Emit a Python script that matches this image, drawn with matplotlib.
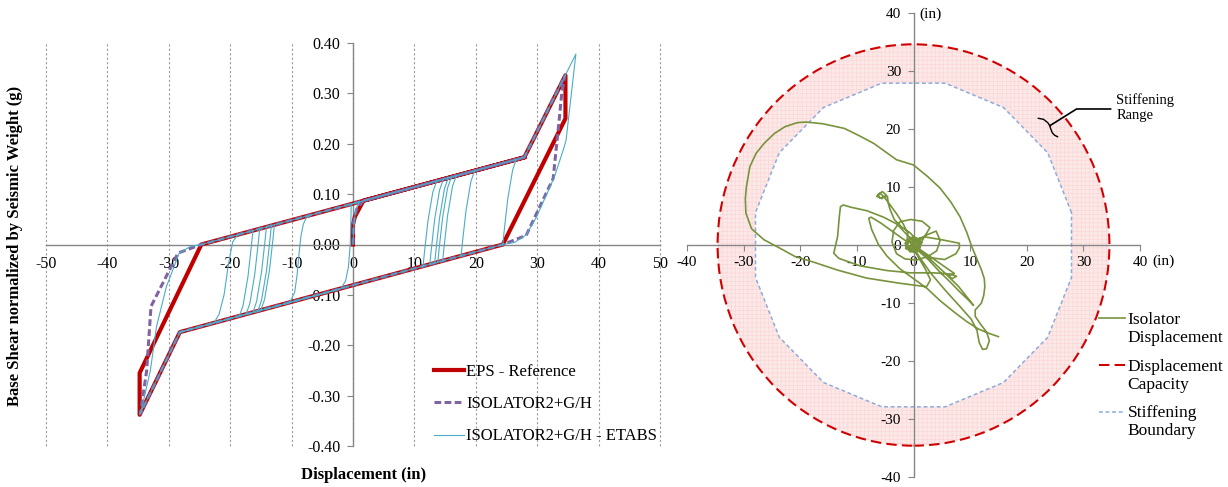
import numpy as np
import matplotlib
matplotlib.use("Agg")
import matplotlib.pyplot as plt
from matplotlib.patches import Circle, Polygon
from matplotlib.lines import Line2D

plt.rcParams['font.family'] = ['Liberation Serif', 'DejaVu Serif']
plt.rcParams['axes.unicode_minus'] = False
plt.rcParams['hatch.linewidth'] = 0.35

# ---------------- left chart data ----------------
x_ticks = [-50, -40, -30, -20, -10, 0, 10, 20, 30, 40, 50]
y_ticks = [-0.40, -0.30, -0.20, -0.10, 0.00, 0.10, 0.20, 0.30, 0.40]

eps_x = [0, 0, 0.3, 1.7, 27.9, 34.6, 34.6, 24.4, -28.2, -34.75, -34.75, -24.7, 27.9]
eps_y = [0, 0.04, 0.055, 0.087, 0.173, 0.336, 0.25, 0.0, -0.174, -0.338, -0.255, 0.0, 0.173]

iso_x = [0, 0.1, 0.6, 1.6, 27.9, 34.5, 34.0, 33.6, 32.6, 28.2, 24.4, -28.2, -34.6, -34.2,
         -33.6, -32.9, -28.5, -24.7, 27.9]
iso_y = [0, 0.045, 0.07, 0.086, 0.173, 0.335, 0.30, 0.25, 0.131, 0.018, 0.0, -0.174, -0.335,
         -0.30, -0.25, -0.123, -0.017, 0.0, 0.173]

nan = np.nan
etabs_x = [0, 0.15, 0.45, 1.0, -0.3, -0.35, -0.45, -0.75, -1.2, -2.0, -28.2, -34.75, -34.3, -33.0,
           -32.0, -30.4, -28.3, -26.5, -24.7, 27.9, 36.3, 34.7, 34.3, 32.8, 29.9, 28.2, 26.3, 24.4, -28.2,
           nan, -6.8, -7.6, -8.1, -8.5, -8.8, -9.1, -9.5, -10.3,
           nan, -18.8, -19.6, -20.3, -21.0, -21.8, -22.6,
           nan, -16.3, -16.55, -17.1, -17.9, -18.5,
           nan, -15.2, -15.45, -16.0, -16.8, -17.4,
           nan, -14.1, -14.35, -14.9, -15.7, -16.3,
           nan, -13.3, -13.55, -14.1, -14.9, -15.5,
           nan, -12.8, -13.05, -13.6, -14.4, -15.0,
           nan, 11.4, 11.65, 12.2, 13.0, 13.6,
           nan, 12.5, 12.75, 13.3, 14.1, 14.7,
           nan, 13.3, 13.55, 14.1, 14.9, 15.5,
           nan, 13.8, 14.05, 14.6, 15.4, 16.0,
           nan, 14.6, 14.85, 15.4, 16.2, 16.8,
           nan, 17.6, 17.85, 18.4, 19.2, 19.8,
           nan, 24.4, 24.65, 25.2, 26.0, 26.6]
etabs_y = [0, 0.04, 0.07, 0.084, 0.080, 0.04, 0.0, -0.045, -0.072, -0.088, -0.174, -0.338, -0.32, -0.25,
           -0.163, -0.084, -0.017, -0.004, 0.0, 0.173, 0.378, 0.207, 0.19, 0.134, 0.055, 0.019, 0.004, 0.0, -0.174,
           nan, 0.059, 0.053, 0.04, 0.015, -0.02, -0.06, -0.095, -0.115,
           nan, 0.019, 0.005, -0.04, -0.10, -0.138, -0.155,
           nan, 0.027, -0.003, -0.063, -0.121, -0.142,
           nan, 0.031, 0.001, -0.059, -0.117, -0.138,
           nan, 0.035, 0.005, -0.055, -0.113, -0.135,
           nan, 0.037, 0.007, -0.053, -0.111, -0.132,
           nan, 0.039, 0.009, -0.051, -0.109, -0.130,
           nan, -0.044, -0.014, 0.046, 0.104, 0.125,
           nan, -0.040, -0.010, 0.050, 0.108, 0.129,
           nan, -0.037, -0.007, 0.053, 0.111, 0.132,
           nan, -0.036, -0.006, 0.054, 0.112, 0.133,
           nan, -0.033, -0.003, 0.057, 0.115, 0.136,
           nan, -0.023, 0.007, 0.067, 0.125, 0.146,
           nan, 0.0, 0.03, 0.09, 0.148, 0.169]

# ---------------- right chart data ----------------
r_ticks = [-40, -30, -20, -10, 0, 10, 20, 30, 40]
capacity_radius = 34.6
boundary_x = [27.9, 23.7, 15.9, 5.6, -5.6, -15.9, -23.7, -27.9, -27.9, -23.7, -15.9, -5.6, 5.6, 15.9, 23.7, 27.9, 27.9]
boundary_y = [5.6, 15.9, 23.7, 27.9, 27.9, 23.7, 15.9, 5.6, -5.6, -15.9, -23.7, -27.9, -27.9, -23.7, -15.9, -5.6, 5.6]

green_x = [0, 0.9, -0.4, -1.1, -0.2, 1.2, 0.6, -0.9, -1.4, 0.3, 1.5, 0.0, -1.5, -0.6, 1.1, 1.0, -0.7, -1.3,
           -1.0, -1.8, -3.0, -4.2, -5.2, -5.9, -6.5, -5.6, -4.8, -5.5, -6.3, -5.9, -4.6, -4.5, -4.2, -3.4, -2.1, -0.6, 0.6, -0.8, 0.9,
           1.8, 2.9, 1.5, -0.5, -2.4, -3.5, -3.8, -3.0, -1.5, 0.5, 2.5, 4.1, 4.7, 4.0, 2.0, 0.5,
           -1.2, -2.9, -5.3, -8.2, -11.0, -12.4, -12.9, -13.1, -13.4, -13.9, -14.1, -13.2, -9.4, -4.7, -0.6, 3.5, 6.5, 7.6, 6.8, 6.2, 7.2, 5.0, 2.5, 0.6,
           1.0, 2.0, 5.0, 8.1, 8.1, 7.5, 5.5, 3.0, 0.8, -0.5,
           0.5, 2.0, 3.0, 2.3, -2.4, -8.3, -13.5, -17.5, -20.9, -23.5, -26.4, -28.6, -29.6, -29.7, -29.5, -28.9, -27.8, -26.4, -24.6, -22.7,
           -20.5, -19.0, -16.0, -12.2, -9.5, -7.0, -3.0, 0.0, 2.5, 4.7, 6.6, 8.2, 9.4, 10.3, 11.2, 12.0, 12.5, 12.6, 12.4, 12.0, 10.9,
           10.9, 11.8, 12.9, 13.4, 12.9, 12.2, 11.6, 11.2, 10.2, 8.2, 5.6, 3.0, 1.0, 0.0,
           0.3, 2.7, 4.7, 6.5, 8.2, 9.5, 10.6, 8.0, 5.5, 3.0, 0.8, -0.6, 0.7, -0.9, 0.4,
           -1.5, -3.5, -5.8, -7.5, -7.9, -7.6, -7.4, -6.2, -4.7, -2.4, 0.0, 2.4, 4.7, 7.1, 9.4, 11.5, 13.5, 15.0]
green_y = [0, 0.5, 1.1, 0.0, -0.9, -0.3, 1.2, 0.8, -0.6, -1.3, 0.4, 1.5, 0.3, -1.2, -0.9, 1.0, 1.3, -0.2,
           2.0, 3.6, 5.4, 7.0, 8.3, 8.9, 8.4, 8.0, 8.6, 9.2, 8.7, 8.1, 8.4, 7.4, 6.3, 4.4, 3.1, 2.1, 0.8, -0.6, -0.4,
           1.2, 3.0, 4.1, 4.4, 4.0, 2.5, 0.5, -1.5, -2.4, -2.6, -2.0, -1.0, 0.8, 2.4, 1.6, 0.3,
           1.8, 3.6, 4.8, 5.9, 6.5, 6.9, 6.6, 4.9, 1.5, -0.7, -1.4, -2.3, -3.6, -4.4, -4.8, -4.8, -5.0, -5.4, -5.8, -5.3, -4.9, -3.4, -1.7, -0.4,
           1.2, 1.4, 0.9, 0.3, -0.5, -1.5, -2.5, -2.2, -1.0, 0.4,
           -1.5, -4.0, -6.0, -7.2, -6.6, -5.7, -4.3, -3.0, -2.0, -0.6, 0.9, 2.8, 5.5, 8.0, 10.1, 13.5, 15.8, 17.5, 19.2, 20.4,
           21.1, 21.2, 20.9, 20.1, 18.8, 17.5, 14.7, 13.8, 11.8, 9.8, 7.4, 4.9, 2.2, -0.3, -2.4, -4.3, -5.8, -7.2, -8.7, -10.0, -11.2,
           -12.3, -13.6, -15.0, -16.5, -17.9, -18.0, -16.8, -14.7, -12.8, -10.6, -7.8, -4.8, -2.0, -0.3,
           -0.5, -2.6, -4.7, -6.4, -8.1, -9.3, -10.4, -7.2, -4.8, -2.5, -0.6, 0.5, 0.9, -0.4, 0.2,
           0.8, 2.2, 3.8, 4.8, 4.6, 3.5, 2.7, 0.1, -1.9, -4.1, -5.8, -7.5, -9.6, -11.5, -13.2, -14.5, -15.3, -15.8]

brace_x = [22.05, 22.97, 23.71, 24.08, 24.2, 24.5, 24.95, 25.44]
brace_y = [21.84, 21.67, 21.09, 20.57, 20.12, 19.36, 18.9, 18.67]
leader_x = [24.08, 28.8, 34.8]
leader_y = [20.57, 23.45, 23.45]

# ---------------- figure ----------------
W, H = 1228, 487
fig = plt.figure(figsize=(W / 100, H / 100), dpi=100)


def fx(px):
    return px / W


def fy(py):
    return 1 - py / H


spine_c = '#868686'

# ---------- left axes ----------
axL = fig.add_axes([fx(46), fy(446), (660 - 46) / W, (446 - 43) / H])
axL.set_xlim(-50, 50)
axL.set_ylim(-0.40, 0.40)
axL.set_xticks(x_ticks)
axL.set_xticklabels([str(v) for v in x_ticks])
axL.set_yticks(y_ticks)
axL.set_yticklabels(['%.2f' % v for v in y_ticks])
for s in ['top', 'right']:
    axL.spines[s].set_visible(False)
axL.spines['left'].set_position(('data', 0))
axL.spines['bottom'].set_position(('data', 0))
for s in ['left', 'bottom']:
    axL.spines[s].set_color(spine_c)
    axL.spines[s].set_linewidth(1.0)
axL.tick_params(axis='y', direction='out', length=4, width=0.8, color=spine_c, pad=5, labelsize=11.5)
axL.tick_params(axis='x', direction='out', length=0, pad=8, labelsize=11.5)
axL.set_axisbelow(True)
axL.xaxis.grid(True, linestyle=(0, (2, 2)), color='#9a9a9a', linewidth=0.8)
for gl in axL.get_xgridlines():
    gl.set_clip_on(False)

axL.plot(eps_x, eps_y, color='#c00000', lw=3.0, zorder=3, label='EPS - Reference')
axL.plot(iso_x, iso_y, color='#8064a2', lw=2.2, ls=(0, (2.2, 1.1)), zorder=4, label='ISOLATOR2+G/H')
axL.plot(etabs_x, etabs_y, color='#4bacc6', lw=0.8, zorder=5, label='ISOLATOR2+G/H - ETABS')

legL = axL.legend(loc='upper left', bbox_to_anchor=(fx(434), fy(364)), bbox_transform=fig.transFigure,
                  frameon=False, fontsize=12, handlelength=1.8, handletextpad=0.15, labelspacing=0.97,
                  borderpad=0, borderaxespad=0)

fig.text(fx(15), fy(246), 'Base Shear normalized by Seismic Weight (g)', rotation=90,
         ha='center', va='center', fontsize=12, fontweight='bold')
fig.text(fx(364), fy(475), 'Displacement (in)', ha='center', va='center', fontsize=12, fontweight='bold')

# ---------- right axes ----------
axR = fig.add_axes([fx(687), fy(477), (1140 - 687) / W, (477 - 13) / H])
axR.set_xlim(-40, 40)
axR.set_ylim(-40, 40)
axR.set_xticks(r_ticks)
axR.set_xticklabels([str(v) for v in r_ticks])
axR.set_yticks(r_ticks)
axR.set_yticklabels([str(v) for v in r_ticks])
for s in ['top', 'right']:
    axR.spines[s].set_visible(False)
axR.spines['left'].set_position(('data', 0))
axR.spines['bottom'].set_position(('data', 0))
for s in ['left', 'bottom']:
    axR.spines[s].set_color(spine_c)
    axR.spines[s].set_linewidth(1.0)
    axR.spines[s].set_zorder(2.5)
axR.tick_params(axis='both', direction='out', length=4, width=0.8, color=spine_c, labelsize=11)
axR.tick_params(axis='x', pad=4)
axR.tick_params(axis='y', pad=5)
axR.patch.set_alpha(0)

ring = Circle((0, 0), capacity_radius, facecolor='#fde8e8', edgecolor='#f9d2d2', hatch='++++',
              linewidth=0, zorder=1)
axR.add_patch(ring)
inner = Polygon(np.column_stack([boundary_x, boundary_y]), closed=True, facecolor='white',
                edgecolor='none', zorder=1.1)
axR.add_patch(inner)
cap_style = dict(color='#d00000', lw=1.5, ls=(0, (5, 2.5)))
cap = Circle((0, 0), capacity_radius, fill=False, edgecolor=cap_style['color'], linewidth=cap_style['lw'],
             linestyle=cap_style['ls'], zorder=2)
axR.add_patch(cap)
hb, = axR.plot(boundary_x, boundary_y, color='#8eaadb', lw=1.1, ls=(0, (2.5, 1.8)), zorder=2)
hg, = axR.plot(green_x, green_y, color='#77933c', lw=1.2, zorder=3)

axR.plot(brace_x, brace_y, color='black', lw=1.0, zorder=4, clip_on=False)
axR.plot(leader_x, leader_y, color='black', lw=1.2, zorder=4, clip_on=False)
axR.text(35.8, 23.7, 'Stiffening\nRange', ha='left', va='center', fontsize=10.5, linespacing=1.25,
         clip_on=False)
axR.text(44.1, -2.8, '(in)', ha='center', va='center', fontsize=11, clip_on=False)
axR.text(3.0, 39.8, '(in)', ha='center', va='center', fontsize=11, clip_on=False)

hc = Line2D([], [], **cap_style)
legR = axR.legend(handles=[hg, hc, hb],
                  labels=['Isolator\nDisplacement', 'Displacement\nCapacity', 'Stiffening\nBoundary'],
                  loc='upper left', bbox_to_anchor=(fx(1099), fy(312)), bbox_transform=fig.transFigure,
                  frameon=False, fontsize=12.5, handlelength=1.5, handletextpad=0.15, labelspacing=0.73,
                  borderpad=0, borderaxespad=0)
for t in legR.get_texts():
    t.set_linespacing(1.17)
for col in legR._legend_handle_box.get_children():
    for row in col.get_children():
        row.align = 'top'

fig.savefig('out.png', dpi=100)
